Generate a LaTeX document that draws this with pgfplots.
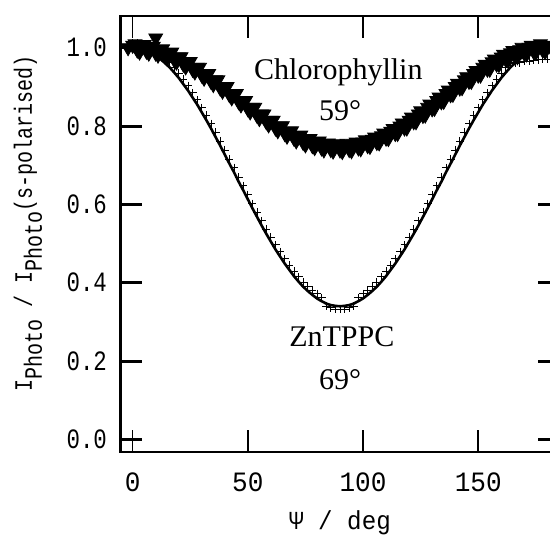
\documentclass[border=0pt]{standalone}
\usepackage{fontspec}
\setmainfont{Liberation Serif}
\setmonofont{Liberation Mono}
\newfontfamily\ytickfont[FakeStretch=0.8]{Liberation Mono}
\newfontfamily\xtickfont[FakeStretch=0.93]{Liberation Mono}
\usepackage{pgfplots}
\pgfplotsset{compat=1.18}
\usepackage{pgfplotstable}

% Chlorophyllin, measured points (band of triangles)
\pgfplotstableread{
x y
-2 1.000
0 1.006
1 1.010
2 0.994
3 0.989
4 1.005
5 1.008
6 0.991
7 0.986
8 1.001
9 1.004
10 0.986
10 1.025
11 0.981
12 0.995
13 0.997
14 0.979
15 0.973
16 0.987
17 0.989
18 0.970
19 0.963
20 0.976
21 0.977
22 0.958
23 0.951
24 0.964
25 0.965
26 0.945
27 0.938
28 0.950
29 0.950
30 0.930
31 0.922
32 0.934
33 0.934
34 0.914
35 0.906
36 0.918
37 0.918
38 0.897
39 0.889
40 0.901
41 0.901
42 0.880
43 0.872
44 0.883
45 0.883
46 0.862
47 0.854
48 0.865
49 0.865
50 0.844
51 0.836
52 0.848
53 0.848
54 0.827
55 0.819
56 0.831
57 0.831
58 0.811
59 0.803
60 0.815
61 0.815
62 0.795
63 0.788
64 0.800
65 0.801
66 0.781
67 0.774
68 0.787
69 0.788
70 0.769
71 0.762
72 0.775
73 0.777
74 0.758
75 0.752
76 0.766
77 0.768
78 0.750
79 0.745
80 0.759
81 0.762
82 0.744
83 0.739
84 0.754
85 0.757
86 0.740
87 0.736
88 0.751
89 0.755
90 0.739
91 0.735
92 0.751
93 0.756
94 0.740
95 0.737
96 0.754
97 0.759
98 0.744
99 0.742
100 0.759
101 0.765
102 0.750
103 0.748
104 0.766
105 0.772
106 0.758
107 0.757
108 0.775
109 0.782
110 0.769
111 0.768
112 0.787
113 0.794
114 0.781
115 0.781
116 0.800
117 0.808
118 0.795
119 0.795
120 0.815
121 0.823
122 0.811
123 0.811
124 0.831
125 0.839
126 0.827
127 0.828
128 0.848
129 0.856
130 0.844
131 0.845
132 0.865
133 0.874
134 0.862
135 0.863
136 0.883
137 0.892
138 0.880
139 0.881
140 0.901
141 0.909
142 0.897
143 0.898
144 0.918
145 0.926
146 0.914
147 0.914
148 0.934
149 0.942
150 0.930
151 0.930
152 0.950
153 0.958
154 0.945
155 0.945
156 0.964
157 0.971
158 0.958
159 0.957
160 0.976
161 0.983
162 0.970
163 0.969
164 0.987
165 0.993
166 0.979
167 0.977
168 0.995
169 1.001
170 0.986
171 0.984
172 1.001
173 1.006
174 0.991
175 0.988
176 1.005
177 1.010
178 0.994
179 0.990
180 1.006
182 0.996
}\chloro

% ZnTPPC, fitted curve
\pgfplotstableread{
x y
0 1.000
2 0.999
4 0.997
6 0.993
8 0.987
10 0.980
12 0.971
14 0.961
16 0.950
18 0.937
20 0.923
22 0.907
24 0.891
26 0.873
28 0.855
30 0.835
32 0.815
34 0.794
36 0.772
38 0.750
40 0.727
42 0.704
44 0.682
46 0.658
48 0.636
50 0.613
52 0.590
54 0.568
56 0.546
58 0.525
60 0.505
62 0.485
64 0.467
66 0.449
68 0.433
70 0.417
72 0.403
74 0.390
76 0.379
78 0.369
80 0.360
82 0.353
84 0.347
86 0.343
88 0.341
90 0.340
92 0.341
94 0.343
96 0.347
98 0.353
100 0.360
102 0.369
104 0.379
106 0.390
108 0.403
110 0.417
112 0.433
114 0.449
116 0.467
118 0.485
120 0.505
122 0.525
124 0.546
126 0.568
128 0.590
130 0.613
132 0.636
134 0.658
136 0.682
138 0.704
140 0.727
142 0.750
144 0.772
146 0.794
148 0.815
150 0.835
152 0.855
154 0.873
156 0.891
158 0.907
160 0.923
162 0.937
164 0.950
166 0.961
168 0.971
170 0.980
172 0.987
174 0.993
176 0.997
178 0.999
180 1.000
}\znfit

% ZnTPPC, measured points
\pgfplotstableread{
x y
0 1.012
2 1.011
4 1.009
6 1.005
8 0.999
10 0.992
12 0.983
14 0.973
16 0.962
18 0.949
20 0.935
22 0.919
24 0.903
26 0.885
28 0.867
30 0.847
32 0.827
34 0.806
36 0.784
38 0.762
40 0.739
42 0.716
44 0.694
46 0.670
48 0.648
50 0.625
52 0.602
54 0.580
56 0.558
58 0.537
60 0.517
62 0.497
64 0.479
66 0.461
68 0.445
70 0.429
72 0.415
74 0.402
76 0.391
78 0.381
80 0.372
82 0.362
84 0.340
86 0.336
88 0.333
90 0.332
92 0.333
94 0.336
96 0.340
98 0.362
100 0.372
102 0.381
104 0.391
106 0.402
108 0.415
110 0.429
112 0.445
114 0.461
116 0.479
118 0.497
120 0.517
122 0.537
124 0.558
126 0.580
128 0.602
130 0.625
132 0.648
134 0.670
136 0.694
138 0.716
140 0.739
142 0.762
144 0.784
146 0.806
148 0.827
150 0.847
152 0.867
154 0.885
156 0.903
158 0.919
160 0.935
162 0.949
164 0.962
166 0.960
168 0.962
170 0.965
172 0.966
174 0.968
176 0.969
178 0.970
180 0.970
}\zndata

\begin{document}
\begin{tikzpicture}
\begin{axis}[
    name=main,
    scale only axis,
    width=220pt,
    height=218pt,
    xmin=-5.5, xmax=185.5,
    ymin=-0.032, ymax=1.081,
    xtick={0,50,100,150},
    ytick={0,0.2,0.4,0.6,0.8,1.0},
    tick align=inside,
    major tick length=11pt,
    xtick style={line width=0.8pt, black},
    ytick style={line width=1.5pt, black},
    axis line style={line width=0.8pt},
    /pgf/number format/assume math mode=true,
    yticklabel style={font=\ytickfont\fontsize{14}{16}\selectfont,
        /pgf/number format/fixed, /pgf/number format/fixed zerofill,
        /pgf/number format/precision=1, xshift=-3pt},
    xticklabel style={font=\xtickfont\fontsize{14}{16}\selectfont, yshift=-7pt},
    xlabel={Ψ / deg},
    xlabel style={font=\xtickfont\fontsize{13}{15}\selectfont,
        at={(axis description cs:0.5,-0.163)}, anchor=center},
    ylabel={I\raisebox{-5pt}{Photo} / I\raisebox{-5pt}{Photo}(s-polarised)},
    ylabel style={font=\ytickfont\fontsize{12.5}{14}\selectfont,
        at={(axis description cs:-0.209,0.525)}, anchor=center},
]
\addplot[only marks, mark=+, mark size=2pt, line width=0.4pt, black] table {\zndata};
\addplot[line width=1.3pt, black] table {\znfit};
\addplot[only marks, mark=triangle*, mark size=4pt, black,
    mark options={rotate=180, fill=black}] table {\chloro};
\node[font=\fontsize{15}{17}\selectfont] at (axis cs:89.3,0.938) {Chlorophyllin};
\node[font=\fontsize{15}{17}\selectfont] at (axis cs:90,0.84) {59°};
\node[font=\fontsize{15}{17}\selectfont] at (axis cs:90.8,0.262) {ZnTPPC};
\node[font=\fontsize{15}{17}\selectfont] at (axis cs:90,0.152) {69°};
\end{axis}
\draw[line width=1.5pt] (main.south west) -- (main.north west);
\pgfresetboundingbox
\useasboundingbox (-60pt,-43.5pt) rectangle (215pt,226pt);
\end{tikzpicture}
\end{document}
